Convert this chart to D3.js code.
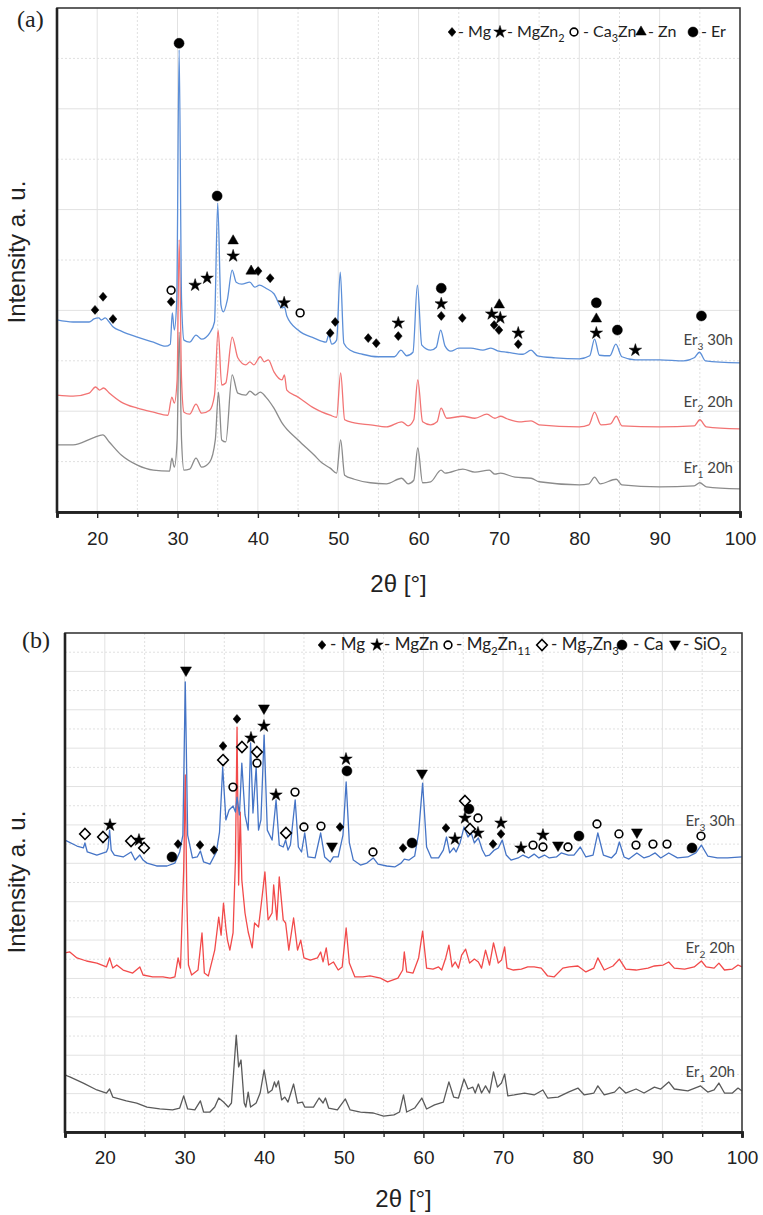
<!DOCTYPE html>
<html lang="en">
<head>
  <meta charset="UTF-8">
  <title>XRD patterns</title>
  <style>
    body { margin: 0; background: #fff; }
    .sans { font-family: "Liberation Sans", Arial, sans-serif; }
    .note { font-family: Lato, "Open Sans", sans-serif; }
    .serif { font-family: "Liberation Serif", "Times New Roman", serif; }
  </style>
</head>
<body>
  <svg width="763" height="1215"></svg>
  <script src="https://d3js.org/d3.v7.min.js"></script>
  <script>
    // ---- panel (a) data: [2theta, intensity] ----
    var er3_30h_a = [[15,381],[17,377],[19,377],[19.6,383],[20.2,385],[20.5,381],[21,385],[21.5,377],[22,367],[23,359],[25,347],[27,337],[28.5,329],[29.1,333],[29.35,395],[29.6,361],[29.9,421],[30.2,917],[30.5,421],[30.8,341],[31.5,337],[32.3,351],[33,343],[34,355],[34.6,377],[35,613],[35.4,411],[35.7,397],[36.2,421],[36.8,480],[37.3,456],[38,452],[39,456],[39.6,446],[40.2,450],[41,444],[42,433],[43,405],[43.3,407],[43.6,389],[45,361],[47,345],[48.5,337],[48.8,351],[49.2,333],[49.8,341],[50.25,476],[50.7,335],[51.5,321],[53,313],[55,308],[57,308],[57.8,321],[58.5,310],[59.3,317],[59.85,450],[60.4,331],[61.5,321],[62.2,327],[62.75,361],[63.3,329],[64,319],[65,325],[66.5,325],[68,321],[69,325],[70,319],[71,317],[73,313],[74,321],[74.8,310],[77,306],[80,304],[81.3,310],[81.9,343],[82.5,311],[83.8,310],[84.55,333],[85.3,308],[87,302],[90,302],[93,300],[94.3,306],[94.95,317],[95.7,300],[100,296]];
    var er2_20h_a = [[15,232],[17,230],[19,236],[19.8,248],[20.3,242],[20.8,246],[21.5,236],[23,218],[25,206],[27,198],[28.8,192],[29.3,228],[29.6,216],[29.95,262],[30.2,540],[30.5,262],[30.8,198],[31.5,194],[32.3,214],[33,196],[34,202],[34.6,232],[35.05,361],[35.5,252],[36,256],[36.8,347],[37.5,306],[38.5,292],[39,298],[39.5,292],[40.3,308],[40.8,298],[41.3,302],[42,278],[43,262],[43.3,272],[43.6,242],[45,228],[47,206],[48,198],[49,192],[49.8,188],[50.3,276],[50.8,183],[52,177],[54,173],[56,169],[57.9,179],[58.7,171],[59.4,183],[59.9,262],[60.5,179],[61.5,173],[62.3,179],[62.8,206],[63.5,186],[65.5,190],[67,186],[68.5,194],[69.5,186],[70.2,190],[71,185],[72.5,179],[74,181],[75,173],[80,169],[81.2,173],[81.9,198],[82.7,173],[83.9,175],[84.6,190],[85.3,171],[90,169],[94.3,171],[95,183],[95.8,169],[100,165]];
    var er1_20h_a = [[15,133],[17,133],[19.5,147],[20.7,153],[21.5,139],[23,113],[25,93],[27,83],[29,81],[29.3,107],[29.6,89],[29.95,143],[30.2,357],[30.5,143],[30.8,83],[31.5,85],[32.3,107],[33,89],[34,99],[34.7,143],[35.1,238],[35.5,143],[36,139],[36.8,272],[37.5,236],[38.5,232],[39,240],[39.7,232],[40.3,238],[41,228],[42,206],[43,177],[45,143],[47,113],[48,97],[49,87],[49.8,77],[50.3,143],[50.8,73],[52,65],[54,58],[56,56],[57.9,67],[58.7,56],[59.4,63],[59.9,127],[60.5,58],[61.5,60],[62.8,83],[63.3,77],[65.5,85],[67,79],[68.8,83],[69.5,75],[70.2,77],[72,69],[74,67],[75,60],[80,54],[81.2,56],[81.9,69],[82.6,56],[84.6,65],[85.3,54],[90,50],[94.3,52],[95,58],[95.8,50],[100,46]];

    // phase markers: [2theta, intensity, symbol]
    // D = filled diamond, S = star, o = open circle, T = triangle, C = filled circle, d = open diamond, V = triangle down
    var peaks_a = [[30.19,930,"C"],[34.93,627,"C"],[36.92,538,"T"],[36.92,508,"S"],[39.16,478,"T"],[40.03,478,"D"],[41.53,464,"D"],[32.19,450,"S"],[33.68,464,"S"],[29.2,440,"o"],[29.2,417,"D"],[19.73,401,"D"],[20.73,427,"D"],[21.97,383,"D"],[43.27,415,"S"],[45.26,395,"o"],[49.0,355,"D"],[49.62,377,"D"],[53.73,345,"D"],[54.73,335,"D"],[57.47,375,"S"],[57.47,349,"D"],[62.82,444,"C"],[62.82,413,"S"],[62.82,389,"D"],[65.44,385,"D"],[69.1,393,"S"],[70.04,411,"T"],[70.17,385,"S"],[69.4,371,"D"],[70.0,361,"D"],[72.4,355,"S"],[72.4,333,"D"],[82.12,415,"C"],[82.12,383,"T"],[82.12,355,"S"],[84.74,361,"C"],[86.98,321,"S"],[95.2,389,"C"]];

    var legend_a = [["D","- Mg"],["S","- MgZn_2"],["o","- Ca_3Zn"],["T","- Zn"],["C","- Er"]];
    var names_a = ["Er_3 30h","Er_2 20h","Er_1 20h"];

    // ---- panel (b) data ----
    var er3_30h_b = [[15,1521],[16.5,1490],[17.3,1480],[17.5,1506],[17.8,1459],[19,1443],[20.2,1459],[20.4,1480],[20.6,1573],[20.8,1469],[21.2,1443],[22.3,1433],[23.3,1459],[23.8,1417],[24.4,1443],[24.8,1417],[25.3,1401],[26.5,1386],[27.8,1386],[28.8,1401],[29.4,1459],[29.8,1547],[30.1,2345],[30.4,1547],[31,1428],[31.6,1433],[32,1464],[32.4,1407],[33.2,1396],[34,1459],[34.4,1563],[34.8,1902],[35.2,1626],[35.6,1678],[36.1,1699],[36.4,1667],[36.6,1745],[36.9,1652],[37.2,1922],[37.6,1652],[38,1573],[38.3,2027],[38.6,1662],[39,1902],[39.3,1573],[39.6,1626],[40,2068],[40.4,1573],[41,1521],[41.5,1730],[41.9,1495],[42.4,1485],[42.7,1521],[43,1469],[43.3,1495],[43.9,1730],[44.3,1485],[44.7,1459],[45.1,1558],[45.5,1433],[46.4,1428],[47.1,1558],[47.6,1433],[48.3,1407],[48.7,1433],[49.3,1433],[49.9,1547],[50.3,1824],[50.7,1506],[51.2,1417],[52.1,1391],[52.9,1401],[53.7,1428],[54.3,1396],[55.4,1386],[56.4,1381],[57.2,1401],[57.6,1422],[58.2,1417],[58.9,1438],[59.4,1558],[59.9,1818],[60.4,1485],[61,1428],[61.9,1428],[62.5,1469],[62.9,1537],[63.3,1454],[63.8,1480],[64.1,1459],[64.6,1506],[65.1,1589],[65.6,1537],[66,1558],[66.4,1506],[66.9,1532],[67.4,1469],[67.8,1438],[68.3,1443],[68.9,1469],[69.4,1480],[69.9,1521],[70.4,1443],[71,1417],[71.9,1428],[72.5,1443],[73.2,1428],[73.9,1448],[74.5,1428],[75.2,1443],[75.8,1428],[76.7,1433],[77.3,1454],[78.2,1443],[78.9,1443],[79.7,1485],[80.4,1433],[81.3,1443],[81.9,1558],[82.6,1443],[83.6,1428],[84.2,1454],[84.6,1511],[85.2,1433],[85.8,1422],[86.8,1454],[87.7,1428],[88.4,1438],[89.1,1454],[89.8,1428],[90.8,1454],[91.9,1428],[93.2,1433],[94.2,1454],[94.9,1495],[95.7,1438],[96.9,1428],[98.2,1428],[100,1433]];
    var er2_20h_b = [[15,933],[15.6,938],[16.5,907],[17.7,891],[19,880],[20.2,860],[20.6,907],[21,854],[21.5,870],[22.3,844],[23.5,828],[24.4,860],[24.8,818],[26,808],[27.3,808],[28.2,802],[28.8,808],[29.2,907],[29.5,854],[29.9,1365],[30.1,1860],[30.3,1209],[30.5,870],[30.9,818],[31.7,844],[32.2,1037],[32.5,828],[33,813],[33.8,948],[34.3,1120],[34.6,1026],[34.9,1193],[35.2,1063],[35.4,1000],[35.7,948],[36.1,1037],[36.4,1417],[36.6,2110],[36.8,1287],[37,1667],[37.2,1313],[37.6,1141],[38,1042],[38.5,959],[38.8,1089],[39.3,1068],[39.7,1209],[40.1,1355],[40.5,1105],[41,1141],[41.2,1287],[41.6,1105],[41.9,1329],[42.4,1105],[42.7,1089],[43.1,948],[43.7,1115],[44.2,948],[44.6,1000],[45,907],[45.8,896],[46.7,907],[47.1,938],[47.4,886],[47.8,959],[48.1,870],[48.7,886],[49.3,844],[49.8,860],[50.3,1063],[50.7,880],[51.4,808],[52.4,808],[53.3,813],[54.6,802],[55.5,782],[56.8,802],[57.4,844],[57.6,938],[57.9,834],[58.7,828],[59.4,907],[59.9,1047],[60.4,854],[61.2,849],[61.9,860],[62.3,844],[62.8,907],[63.2,974],[63.6,860],[64,886],[64.4,854],[64.8,922],[65.3,953],[65.8,880],[66.4,901],[66.9,886],[67.3,854],[67.8,948],[68.3,870],[68.8,985],[69.4,880],[69.8,896],[70.2,964],[70.5,854],[71.3,844],[72.3,849],[73.1,860],[73.9,860],[74.8,854],[75.6,813],[76.4,808],[77.5,854],[78.3,860],[79.4,865],[80.4,834],[81.4,854],[81.9,907],[82.7,844],[83.8,865],[84.6,901],[85.4,849],[86.7,844],[88.2,854],[89,865],[90.1,870],[90.8,886],[91.5,854],[92.8,849],[94,860],[94.9,891],[95.5,860],[96.5,854],[97.1,880],[97.8,844],[98.8,849],[99.5,870],[100,860]];
    var er1_20h_b = [[15,297],[15.6,287],[17.3,255],[19,219],[20.2,203],[20.6,224],[21,182],[22.7,162],[24,151],[25.3,130],[26.9,120],[28.5,115],[29.4,125],[29.9,188],[30.4,120],[31.3,115],[32,162],[32.4,104],[33.2,104],[33.8,130],[34.3,177],[34.9,156],[35.5,130],[35.9,151],[36.5,505],[36.8,339],[37.1,375],[37.5,151],[37.7,130],[38,208],[38.3,130],[39,151],[39.5,203],[40,323],[40.5,203],[41,219],[41.3,261],[41.5,234],[41.8,266],[42.2,167],[42.6,182],[43,156],[43.7,250],[44.2,151],[44.8,156],[45.1,130],[46.2,130],[46.9,177],[47.4,151],[47.7,177],[48.1,125],[49.2,115],[50.2,172],[50.8,115],[52.1,104],[53.7,99],[55,83],[56.3,89],[57,104],[57.5,193],[57.9,104],[58.9,125],[59.8,177],[60.4,120],[61.4,141],[62.5,156],[63.2,261],[63.8,182],[64.4,177],[65.1,276],[65.6,224],[66.2,234],[66.5,203],[66.9,250],[67.3,203],[67.8,240],[68.3,203],[68.8,313],[69.3,234],[69.8,255],[70.2,302],[70.6,188],[71.4,193],[72.7,203],[73.9,193],[75,219],[75.6,177],[76.9,182],[78.2,208],[79.4,229],[80.2,193],[81.4,203],[81.9,240],[82.7,193],[84,208],[84.6,234],[85.4,203],[86.7,224],[87.7,203],[89,234],[89.8,224],[90.8,261],[91.5,224],[93.2,214],[94.8,240],[95.7,208],[96.5,219],[97.1,255],[97.8,203],[98.8,203],[99.5,229],[100,214]];

    var peaks_b = [[17.51,1553,"d"],[19.77,1537,"d"],[20.65,1599,"S"],[23.29,1516,"d"],[24.29,1521,"S"],[24.92,1480,"d"],[28.43,1433,"C"],[29.19,1500,"D"],[30.19,2402,"V"],[31.95,1495,"D"],[33.71,1469,"D"],[34.84,2011,"D"],[34.84,1938,"d"],[36.09,1797,"o"],[36.59,2152,"D"],[37.22,2006,"d"],[38.35,2053,"S"],[39.1,1980,"d"],[39.1,1922,"o"],[39.98,2204,"V"],[39.98,2115,"S"],[41.49,1756,"S"],[43.88,1771,"o"],[42.75,1558,"d"],[45.0,1589,"o"],[47.14,1594,"o"],[48.52,1485,"V"],[49.53,1589,"D"],[50.28,1943,"S"],[50.4,1881,"C"],[53.67,1459,"o"],[57.44,1480,"D"],[58.57,1506,"C"],[59.82,1865,"V"],[62.83,1584,"D"],[63.96,1527,"S"],[65.22,1725,"d"],[65.72,1683,"C"],[65.22,1636,"S"],[66.85,1636,"o"],[65.85,1579,"d"],[66.85,1558,"S"],[69.74,1610,"S"],[69.74,1553,"D"],[68.74,1500,"D"],[72.25,1480,"S"],[73.76,1495,"o"],[75.01,1547,"S"],[75.01,1485,"o"],[76.9,1490,"V"],[78.15,1485,"o"],[79.53,1542,"C"],[81.79,1605,"o"],[84.55,1553,"o"],[86.81,1558,"V"],[86.69,1495,"o"],[88.82,1500,"o"],[90.58,1500,"o"],[93.72,1480,"C"],[94.85,1542,"o"]];

    var legend_b = [["D","- Mg"],["S","- MgZn"],["o","- Mg_2Zn_11"],["d","- Mg_7Zn_3"],["C","- Ca"],["V","- SiO_2"]];
    var names_b = ["Er_3 30h","Er_2 20h","Er_1 20h"];

    var xTicks = [20, 30, 40, 50, 60, 70, 80, 90, 100];

    var svg = d3.select("svg");

    // marker shapes as d3 symbol types
    var diamond = function(h, w) {
      return { draw: function(c) { c.moveTo(0, -h); c.lineTo(w, 0); c.lineTo(0, h); c.lineTo(-w, 0); c.closePath(); } };
    };
    var triUp = function(s) {
      return { draw: function(c) { c.moveTo(0, -s * 0.58); c.lineTo(s / 2, s * 0.29); c.lineTo(-s / 2, s * 0.29); c.closePath(); } };
    };
    var triDown = function(s) {
      return { draw: function(c) { c.moveTo(0, s * 0.5); c.lineTo(s / 2, -s * 0.37); c.lineTo(-s / 2, -s * 0.37); c.closePath(); } };
    };

    function drawSymbol(g, code, px, py) {
      var sym, filled = true;
      if (code == "D") sym = d3.symbol(diamond(4.5, 3.9))();
      else if (code == "S") sym = d3.symbol(d3.symbolStar, 6.6 * 6.6 / 0.8908)();
      else if (code == "T") sym = d3.symbol(triUp(10.5))();
      else if (code == "V") sym = d3.symbol(triDown(11))();
      else if (code == "C") sym = d3.symbol(d3.symbolCircle, Math.PI * 25)();
      else if (code == "o") { sym = d3.symbol(d3.symbolCircle, Math.PI * 15)(); filled = false; }
      else if (code == "d") { sym = d3.symbol(diamond(5.5, 5.3))(); filled = false; }
      g.append("path")
        .attr("d", sym)
        .attr("transform", "translate(" + px + "," + py + ")")
        .attr("fill", filled ? "#000" : "none")
        .attr("stroke", "#000")
        .attr("stroke-width", filled ? 0.5 : 1.6);
    }

    // text with _N subscripts
    function rich(t, str, fs) {
      var parts = str.split(/_(\d+)/), shift = 0;
      parts.forEach(function(p, i) {
        if (!p) return;
        var sub = i % 2 == 1;
        t.append("tspan")
          .attr("dy", (sub ? fs * 0.3 : 0) - shift)
          .attr("font-size", sub ? fs * 0.68 : fs)
          .text(p);
        shift = sub ? fs * 0.3 : 0;
      });
    }

    function panel(o) {
      var x = d3.scaleLinear().domain([15, 100]).range([o.left, o.right]);
      var y = d3.scaleLinear().domain([0, o.ymax]).range([o.bottom, o.top]);
      var g = svg.append("g");

      // grid
      g.append("g").selectAll("line")
        .data(d3.range(20, 100, 5))
        .join("line")
        .attr("x1", d => x(d)).attr("x2", d => x(d))
        .attr("y1", o.top).attr("y2", o.bottom)
        .attr("stroke", d => d % 10 ? "#e0e0e0" : "#e2e2e2")
        .attr("stroke-dasharray", d => d % 10 ? "2,2" : null);
      g.append("g").selectAll("line")
        .data(d3.range(100, o.ymax, 100))
        .join("line")
        .attr("x1", o.left).attr("x2", o.right)
        .attr("y1", d => y(d)).attr("y2", d => y(d))
        .attr("stroke", d => d % 200 ? "#e0e0e0" : "#e2e2e2")
        .attr("stroke-dasharray", d => d % 200 ? "2,2" : null);

      // traces
      var line = d3.line().x(d => x(d[0])).y(d => y(d[1]));
      if (o.smooth) line.curve(d3.curveMonotoneX);
      o.series.forEach(function(s) {
        g.append("path")
          .datum(s.values)
          .attr("fill", "none")
          .attr("stroke", s.color)
          .attr("stroke-width", 1.3)
          .attr("stroke-linejoin", "round")
          .attr("d", line);
      });

      // frame
      g.append("rect")
        .attr("x", o.left).attr("y", o.top)
        .attr("width", o.right - o.left).attr("height", o.bottom - o.top)
        .attr("fill", "none").attr("stroke", "#3a3a3a").attr("stroke-width", 1.6);

      // axes
      var minor = g.append("g")
        .attr("transform", "translate(0," + o.bottom + ")")
        .call(d3.axisBottom(x).tickValues(d3.range(15, 100, 10)).tickSize(5).tickFormat(""));
      var major = g.append("g")
        .attr("transform", "translate(0," + o.bottom + ")")
        .call(d3.axisBottom(x).tickValues(xTicks).tickSize(6).tickPadding(o.tickPad));
      [minor, major].forEach(function(a) {
        a.select(".domain").attr("stroke", "#222").attr("stroke-width", 2.6);
        a.selectAll(".tick line").attr("stroke", "#222").attr("stroke-width", 1.4);
      });
      major.selectAll(".tick text")
        .attr("class", "sans")
        .attr("font-family", null)
        .attr("font-size", 19).attr("fill", "#222");
      g.append("line")
        .attr("x1", o.left).attr("x2", o.left)
        .attr("y1", o.top).attr("y2", o.bottom + 1)
        .attr("stroke", "#222").attr("stroke-width", 2.6);

      // phase markers
      var mk = g.append("g");
      o.peaks.forEach(p => drawSymbol(mk, p[2], x(p[0]), y(p[1])));

      // legend
      var lg = g.append("g");
      o.legend.forEach(function(l, i) {
        var pos = o.legendPos[i];
        drawSymbol(lg, l[0], pos[0], o.legendY);
        var t = lg.append("text").attr("class", "note")
          .attr("x", pos[1]).attr("y", o.legendY + 5)
          .attr("fill", "#222");
        rich(t, l[1], o.legendFs);
      });

      // series labels
      o.names.forEach(function(n, i) {
        var t = g.append("text").attr("class", "note")
          .attr("x", o.right - 7).attr("y", o.nameY[i])
          .attr("text-anchor", "end").attr("fill", "#444");
        rich(t, n, 15);
      });

      // axis titles
      g.append("text").attr("class", "sans")
        .attr("transform", "translate(" + 25 + "," + o.yTitle + ") rotate(-90)")
        .attr("text-anchor", "middle")
        .attr("font-size", 24).attr("fill", "#222")
        .text("Intensity a. u.");
      g.append("text").attr("class", "sans")
        .attr("x", (o.left + o.right) / 2).attr("y", o.xTitle)
        .attr("text-anchor", "middle")
        .attr("font-size", 24).attr("fill", "#222")
        .text("2\u03b8 [\u00b0]");
      g.append("text").attr("class", "serif")
        .attr("x", o.tagX).attr("y", o.tagY)
        .attr("font-size", 24).attr("fill", "#222")
        .text(o.tag);
    }

    panel({
      tag: "(a)", tagX: 17, tagY: 27,
      left: 57, right: 740, top: 8, bottom: 512, ymax: 1000, smooth: true, tickPad: 14,
      series: [
        { values: er1_20h_a, color: "#8c8c8c" },
        { values: er2_20h_a, color: "#f27474" },
        { values: er3_30h_a, color: "#5c8fd8" }
      ],
      peaks: peaks_a,
      legend: legend_a, legendY: 32, legendFs: 16,
      legendPos: [[452, 458], [500, 507], [574, 583], [641, 648], [693, 701]],
      names: names_a, nameY: [345, 407, 473],
      yTitle: 252, xTitle: 592
    });

    panel({
      tag: "(b)", tagX: 22, tagY: 648,
      left: 65, right: 742, top: 633, bottom: 1132, ymax: 2600, smooth: false, tickPad: 13,
      series: [
        { values: er1_20h_b, color: "#5a5a5a" },
        { values: er2_20h_b, color: "#f24a4a" },
        { values: er3_30h_b, color: "#4574c6" }
      ],
      peaks: peaks_b,
      legend: legend_b, legendY: 645, legendFs: 17,
      legendPos: [[322, 330], [377, 384], [448, 456], [542, 551], [622, 633], [675, 683]],
      names: names_b, nameY: [826, 953, 1077],
      yTitle: 882, xTitle: 1207
    });
  </script>
</body>
</html>
